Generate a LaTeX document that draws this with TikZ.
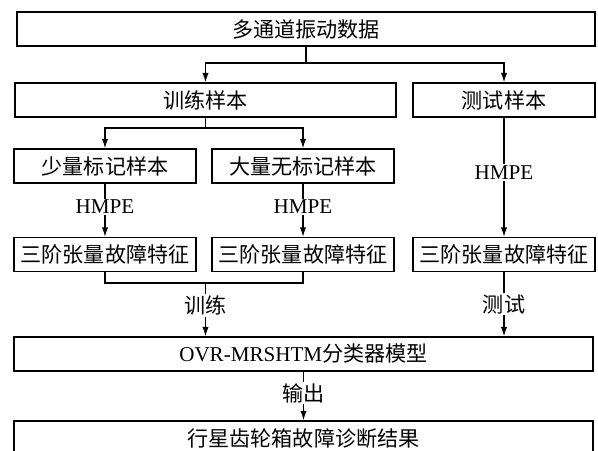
\documentclass[tikz,border=0pt]{standalone}
\usepackage{fontspec}
\setmainfont{Liberation Serif}
\newfontfamily\cjk{Noto Sans CJK SC}
\usetikzlibrary{arrows.meta}

\tikzset{
  box/.style={draw, line width=0.9pt, minimum height=0.85cm, inner sep=0pt, font=\fontsize{15pt}{17pt}\selectfont},
  arr/.style={line width=0.9pt, -{Latex[length=2.4mm,width=1.6mm]}},
  con/.style={line width=0.9pt},
  lab/.style={fill=white, inner sep=1pt, font=\fontsize{15pt}{17pt}\selectfont}
}

\begin{document}
\begin{tikzpicture}[x=0.025cm, y=-0.025cm]
\clip (0,0) rectangle (598,450);

%Data and samples
\node[box, minimum width=14.45cm] (data) at (306,29){\cjk 多通道振动数据};
\node[box, minimum width=9.525cm] (train) at (205.5,100){\cjk 训练样本};
\node[box, minimum width=4.55cm] (test) at (504,100){\cjk 测试样本};
\node[box, minimum width=4.55cm] (few) at (105,166){\cjk 少量标记样本};
\node[box, minimum width=4.55cm] (many) at (303,166){\cjk 大量无标记样本};

%Tensor features
\node[box, minimum width=4.55cm] (feat1) at (105,254.5){\cjk 三阶张量故障特征};
\node[box, minimum width=4.55cm] (feat2) at (303,254.5){\cjk 三阶张量故障特征};
\node[box, minimum width=4.55cm] (feat3) at (504,254.5){\cjk 三阶张量故障特征};

%Model and result
\node[box, minimum width=14.475cm] (model) at (303.5,354){OVR-MRSHTM{\cjk 分类器模型}};
\node[box, minimum width=14.475cm] (result) at (303.5,438){\cjk 行星齿轮箱故障诊断结果};

%Split of the data
\coordinate (split1) at (306,63);
\draw[con] (data.south) -- (split1);
\draw[arr] (split1) -| (train.north);
\draw[arr] (split1) -| (test.north);

%Split of the training samples
\coordinate (split2) at (205.5,128);
\draw[con] (train.south) -- (split2);
\draw[arr] (split2) -| (few.north);
\draw[arr] (split2) -| (many.north);

%HMPE
\draw[arr] (few.south) -- node[lab, pos=0.44]{HMPE} (feat1.north);
\draw[arr] (many.south) -- node[lab, pos=0.44]{HMPE} (feat2.north);
\draw[arr] (test.south) -- node[lab, pos=0.46]{HMPE} (feat3.north);

%Training and testing
\coordinate (merge) at (205.5,283);
\draw[con] (feat1.south) |- (merge) -| (feat2.south);
\draw[arr] (merge) -- node[lab, pos=0.42]{\cjk 训练} (merge |- model.north);
\draw[arr] (feat3.south) -- node[lab, pos=0.5]{\cjk 测试} (feat3.south |- model.north);

%Output
\draw[arr] (model.south) -- node[lab, pos=0.44]{\cjk 输出} (result.north);

\end{tikzpicture}
\end{document}
